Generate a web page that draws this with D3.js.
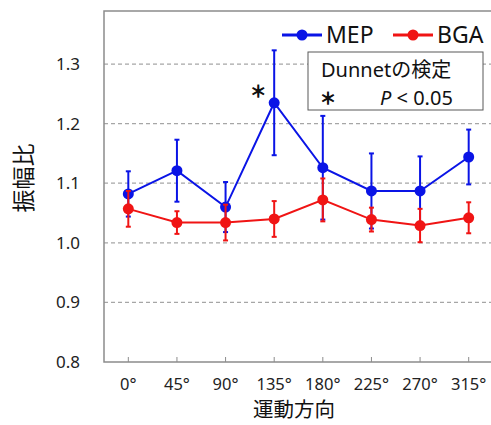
<!DOCTYPE html>
<html>
<head>
<meta charset="utf-8">
<script src="https://cdn.jsdelivr.net/npm/d3@7"></script>
<style>
  body { margin: 0; background: #fff; }
  text { font-family: "Noto Sans", "Noto Sans CJK JP", sans-serif; }
  .jp { font-family: "Noto Sans CJK JP", sans-serif; }
</style>
</head>
<body>
<div id="chart"></div>
<script>
// 運動方向
const directions = ['0°', '45°', '90°', '135°', '180°', '225°', '270°', '315°'];
// MEP 振幅比 と 誤差
const mepMean = [1.082, 1.121, 1.060, 1.235, 1.126, 1.087, 1.087, 1.144];
const mepErr  = [0.038, 0.052, 0.042, 0.088, 0.087, 0.063, 0.058, 0.046];
// BGA 振幅比 と 誤差
const bgaMean = [1.057, 1.034, 1.034, 1.040, 1.072, 1.039, 1.029, 1.042];
const bgaErr  = [0.030, 0.019, 0.030, 0.030, 0.036, 0.020, 0.028, 0.026];
const yTicks = [0.8, 0.9, 1.0, 1.1, 1.2, 1.3];
const sigIndex = [3]; // 135°

const width = 491, height = 425;
const margin = { top: 11, right: -2, bottom: 63, left: 104 };

const svg = d3.select('#chart').append('svg')
  .attr('width', width)
  .attr('height', height);

const x = d3.scalePoint()
  .domain(directions)
  .range([margin.left, width - margin.right])
  .padding(0.5);

const y = d3.scaleLinear()
  .domain([0.8, 1.389])
  .range([height - margin.bottom, margin.top]);

const axisColor = '#8c8c8c';

// グリッド線
svg.append('g')
  .selectAll('line')
  .data(yTicks.filter(d => d > 0.8))
  .enter().append('line')
  .attr('x1', margin.left)
  .attr('x2', width)
  .attr('y1', d => y(d))
  .attr('y2', d => y(d))
  .attr('stroke', '#a6a6a6')
  .attr('stroke-width', 1.2)
  .attr('stroke-dasharray', '4,3');

// 枠
svg.append('path')
  .attr('fill', 'none')
  .attr('stroke', axisColor)
  .attr('stroke-width', 1.5)
  .attr('d', `M${width},${margin.top}H${margin.left}V${height - margin.bottom}H${width}`);

// x軸の目盛り（内向き）
svg.append('g')
  .selectAll('line')
  .data(directions)
  .enter().append('line')
  .attr('x1', d => x(d))
  .attr('x2', d => x(d))
  .attr('y1', height - margin.bottom)
  .attr('y2', height - margin.bottom - 5)
  .attr('stroke', axisColor)
  .attr('stroke-width', 1);

// 軸ラベル
svg.append('g')
  .selectAll('text')
  .data(yTicks)
  .enter().append('text')
  .attr('x', 80)
  .attr('y', d => y(d))
  .attr('dy', '0.35em')
  .attr('text-anchor', 'end')
  .attr('font-size', 17)
  .attr('fill', '#222')
  .text(d => d.toFixed(1));

svg.append('g')
  .selectAll('text')
  .data(directions)
  .enter().append('text')
  .attr('x', d => x(d))
  .attr('y', 384)
  .attr('dy', '0.35em')
  .attr('text-anchor', 'middle')
  .attr('font-size', 16.5)
  .attr('fill', '#222')
  .text(d => d);

svg.append('text')
  .attr('class', 'jp')
  .attr('x', 294)
  .attr('y', 410)
  .attr('dy', '0.35em')
  .attr('text-anchor', 'middle')
  .attr('font-size', 20.5)
  .attr('fill', '#111')
  .text('運動方向');

svg.append('text')
  .attr('class', 'jp')
  .attr('transform', 'translate(24,178) rotate(-90)')
  .attr('dy', '0.35em')
  .attr('text-anchor', 'middle')
  .attr('font-size', 23)
  .attr('fill', '#111')
  .text('振幅比');

// 系列描画
function drawSeries(means, errs, color) {
  const pts = means.map((m, i) => ({ dir: directions[i], m, e: errs[i] }));
  const g = svg.append('g');
  g.append('path')
    .datum(pts)
    .attr('fill', 'none')
    .attr('stroke', color)
    .attr('stroke-width', 2)
    .attr('d', d3.line().x(d => x(d.dir)).y(d => y(d.m)));
  const eb = g.selectAll('g.eb').data(pts).enter().append('g')
    .attr('stroke', color).attr('stroke-width', 2);
  eb.append('line')
    .attr('x1', d => x(d.dir)).attr('x2', d => x(d.dir))
    .attr('y1', d => y(d.m - d.e)).attr('y2', d => y(d.m + d.e));
  eb.append('line')
    .attr('x1', d => x(d.dir) - 2.5).attr('x2', d => x(d.dir) + 2.5)
    .attr('y1', d => y(d.m + d.e)).attr('y2', d => y(d.m + d.e));
  eb.append('line')
    .attr('x1', d => x(d.dir) - 2.5).attr('x2', d => x(d.dir) + 2.5)
    .attr('y1', d => y(d.m - d.e)).attr('y2', d => y(d.m - d.e));
  g.selectAll('circle').data(pts).enter().append('circle')
    .attr('cx', d => x(d.dir))
    .attr('cy', d => y(d.m))
    .attr('r', 5.5)
    .attr('fill', color);
}

drawSeries(mepMean, mepErr, '#0a14e6');
drawSeries(bgaMean, bgaErr, '#f01414');

// 有意差マーク
svg.append('g')
  .selectAll('text')
  .data(sigIndex)
  .enter().append('text')
  .attr('class', 'jp')
  .attr('x', i => x(directions[i]) - 16)
  .attr('y', i => y(mepMean[i]) - 11)
  .attr('dy', '0.35em')
  .attr('text-anchor', 'middle')
  .attr('font-size', 16)
  .attr('fill', '#111')
  .attr('stroke', '#111')
  .attr('stroke-width', 1)
  .text('＊');

// 凡例
const legend = [
  { name: 'MEP', color: '#0a14e6', x0: 282 },
  { name: 'BGA', color: '#f01414', x0: 393 }
];
const lg = svg.append('g').selectAll('g').data(legend).enter().append('g')
  .attr('transform', d => `translate(${d.x0},35)`);
lg.append('line')
  .attr('x1', 0).attr('x2', 40)
  .attr('stroke', d => d.color).attr('stroke-width', 3);
lg.append('circle')
  .attr('cx', 20).attr('r', 5.5).attr('fill', d => d.color);
lg.append('text')
  .attr('x', 44).attr('dy', '0.35em')
  .attr('font-size', 23)
  .attr('fill', '#111')
  .text(d => d.name);

// 検定の注記
svg.append('rect')
  .attr('x', 308).attr('y', 52)
  .attr('width', 175).attr('height', 58)
  .attr('fill', '#fff')
  .attr('stroke', '#595959')
  .attr('stroke-width', 1);
svg.append('text')
  .attr('x', 321).attr('y', 70)
  .attr('dy', '0.35em')
  .attr('font-size', 20)
  .attr('fill', '#111')
  .text('Dunnet')
  .append('tspan')
  .attr('class', 'jp')
  .text('の検定');
svg.append('text')
  .attr('class', 'jp')
  .attr('x', 328).attr('y', 98)
  .attr('dy', '0.35em')
  .attr('text-anchor', 'middle')
  .attr('font-size', 16)
  .attr('fill', '#111')
  .attr('stroke', '#111')
  .attr('stroke-width', 1)
  .text('＊');
const pText = svg.append('text')
  .attr('x', 380).attr('y', 98)
  .attr('dy', '0.35em')
  .attr('font-size', 20)
  .attr('fill', '#111');
pText.append('tspan').attr('font-style', 'italic').text('P');
pText.append('tspan').text(' < 0.05');
</script>
</body>
</html>
